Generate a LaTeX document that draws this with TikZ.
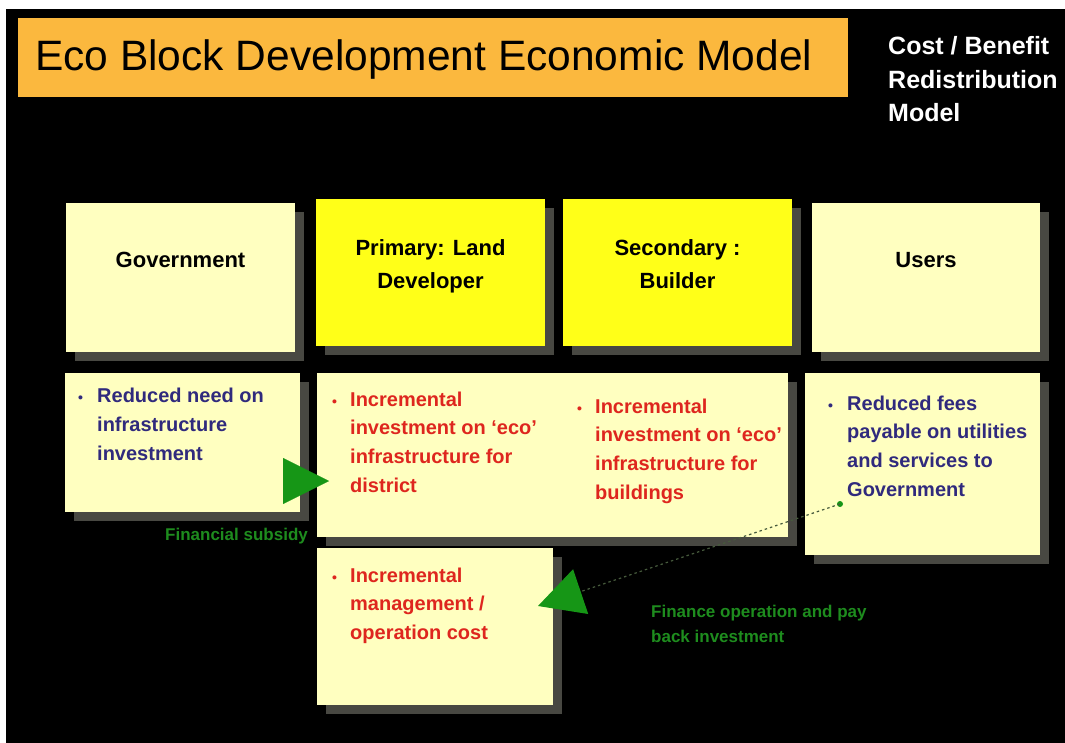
\documentclass[tikz,border=0pt]{standalone}
\usepackage{fontspec}
\setmainfont{Liberation Sans}
\usetikzlibrary{arrows.meta,shadows}
\definecolor{titleorange}{RGB}{251,184,62}
\definecolor{paleyellow}{RGB}{255,255,192}
\definecolor{brightyellow}{RGB}{255,255,24}
\definecolor{shadowgray}{RGB}{72,72,66}
\definecolor{navytext}{RGB}{48,42,125}
\definecolor{redtext}{RGB}{222,38,30}
\definecolor{arrowgreen}{RGB}{22,150,22}
\definecolor{labelgreen}{RGB}{30,140,30}
\definecolor{dotgray}{RGB}{70,90,60}
\newcommand{\bmark}[1][19pt]{\llap{\makebox[#1][l]{\fontsize{14}{14}\selectfont\textbullet}}}
\begin{document}
\begin{tikzpicture}[x=1pt,y=-1pt,
  box/.style={fill=paleyellow, draw=none, inner sep=0pt, anchor=north west,
    drop shadow={shadow xshift=9pt, shadow yshift=-9pt, fill=shadowgray, opacity=1}},
  hotbox/.style={box, fill=brightyellow},
  role/.style={font=\fontsize{22}{33}\selectfont\bfseries, align=center, text=black, inner sep=0pt},
  btxt/.style={font=\fontsize{20}{28.8}\selectfont\bfseries, align=left, anchor=north west, inner sep=0pt},
  glabel/.style={font=\fontsize{17}{25}\selectfont\bfseries, text=labelgreen, align=left, inner sep=0pt},
  subsidyarrow/.style={draw=arrowgreen, line width=0.1pt, -{Triangle[length=46pt,width=46pt]}},
  paybackarrow/.style={draw=dotgray, line width=1.2pt, dash pattern=on 2.5pt off 3pt,
    -{Triangle[length=45pt,width=47pt,color=arrowgreen]}}
]
\useasboundingbox (0,0) rectangle (1065,743);
\fill[white] (0,0) rectangle (1065,743);
\fill[black] (6,9) rectangle (1065,743);

% title
\node[fill=titleorange, inner sep=0pt, anchor=north west, minimum width=830pt, minimum height=79pt] (titlebox) at (18,18) {};
\node[font=\fontsize{42.5}{42.5}\selectfont, text=black, anchor=base west, inner sep=0pt] (titletext) at (35,71) {Eco Block Development Economic Model};
\node[font=\fontsize{25}{33.5}\selectfont\bfseries, text=white, align=left, anchor=north west, inner sep=0pt] (subtitle) at (888,36.5) {Cost / Benefit\\Redistribution\\Model};

% top row
\node[box, minimum width=229pt, minimum height=149pt] (gov) at (66,203) {};
\node[hotbox, minimum width=229pt, minimum height=147pt] (prim) at (316,199) {};
\node[hotbox, minimum width=229pt, minimum height=147pt] (sec) at (563,199) {};
\node[box, minimum width=228pt, minimum height=149pt] (users) at (812,203) {};

% second row
\node[box, minimum width=235pt, minimum height=139pt] (govben) at (65,373) {};
\node[box, minimum width=471pt, minimum height=164pt] (mid) at (317,373) {};
\node[box, minimum width=235pt, minimum height=182pt] (usersben) at (805,373) {};
\node[box, minimum width=236pt, minimum height=157pt] (mgmt) at (317,548) {};

% connectors
\coordinate (subtip) at (329,481);
\draw[subsidyarrow] (govben.east |- subtip) -- (subtip);
\node[circle, fill=arrowgreen, inner sep=0pt, minimum size=6pt] (paydot) at (840,504) {};
\coordinate (paytip) at (538,606);
\draw[paybackarrow] (paydot.center) -- (paytip);

% top row labels
\node[role, anchor=base] (govlbl) at (180.5,268) {Government};
\node[role, anchor=north] (primlbl) at (430.5,239) {Primary: Land\\Developer};
\node[role, anchor=north] (seclbl) at (677.5,239) {Secondary :\\Builder};
\node[role, anchor=base] (userslbl) at (926,268) {Users};

% bullet texts
\node[btxt, text=navytext] (govtxt) at (97,388) {\bmark Reduced need on\\infrastructure\\investment};
\node[btxt, text=redtext] (midtxt1) at (350,391.5) {\bmark[18pt]Incremental\\investment on `eco'\\infrastructure for\\district};
\node[btxt, text=redtext] (midtxt2) at (595,398.5) {\bmark[18pt]Incremental\\investment on `eco'\\infrastructure for\\buildings};
\node[btxt, text=navytext] (userstxt) at (847,395.5) {\bmark Reduced fees\\payable on utilities\\and services to\\Government};
\node[btxt, text=redtext] (mgmttxt) at (350,567.5) {\bmark[18pt]Incremental\\management /\\operation cost};

% green labels
\node[glabel, anchor=base west] (subsidylbl) at (165,540) {Financial subsidy};
\node[glabel, anchor=north west] (paybacklbl) at (651,605) {Finance operation and pay\\back investment};
\end{tikzpicture}
\end{document}
